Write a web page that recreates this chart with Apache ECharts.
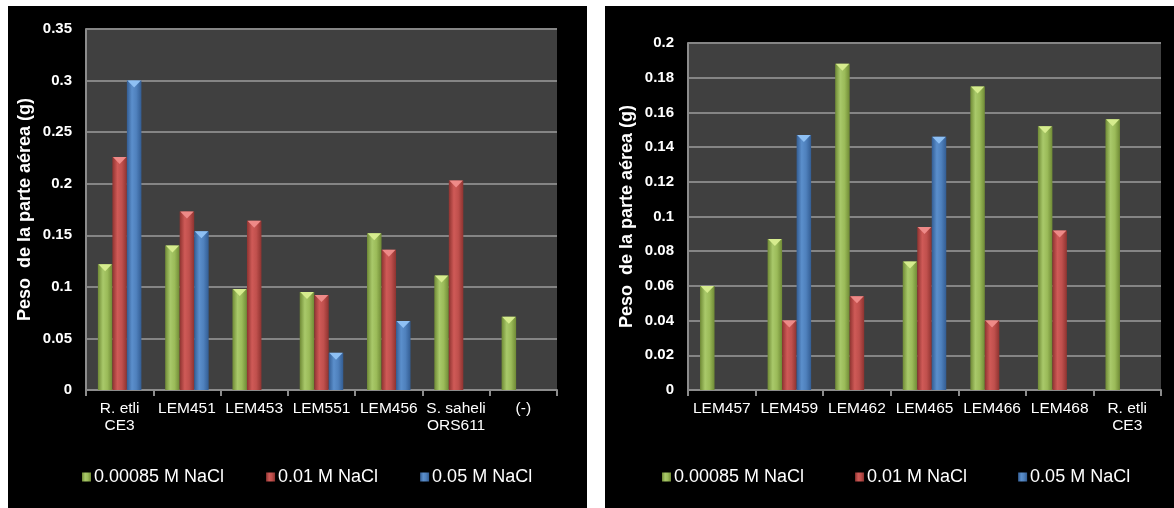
<!DOCTYPE html>
<html>
<head>
<meta charset="utf-8">
<script src="https://cdn.jsdelivr.net/npm/echarts@6/dist/echarts.min.js"></script>
<style>
html,body{margin:0;padding:0;background:#ffffff;}
#chart{width:1174px;height:508px;}
</style>
</head>
<body>
<div id="chart"></div>
<script>
// ---- data ----
const seriesNames = ['0.00085 M NaCl', '0.01 M NaCl', '0.05 M NaCl'];
const yTitle = 'Peso  de la parte aérea (g)';

const leftCategories = ['R. etli\nCE3', 'LEM451', 'LEM453', 'LEM551', 'LEM456', 'S. saheli\nORS611', '(-)'];
const leftLow  = [0.122, 0.140, 0.098, 0.095, 0.152, 0.111, 0.071];
const leftMid  = [0.226, 0.173, 0.164, 0.092, 0.136, 0.203, null];
const leftHigh = [0.300, 0.154, null, 0.036, 0.067, null, null];

const rightCategories = ['LEM457', 'LEM459', 'LEM462', 'LEM465', 'LEM466', 'LEM468', 'R. etli\nCE3'];
const rightLow  = [0.060, 0.087, 0.188, 0.074, 0.175, 0.152, 0.156];
const rightMid  = [null, 0.040, 0.054, 0.094, 0.040, 0.092, null];
const rightHigh = [null, 0.147, null, 0.146, null, null, null];

// ---- styles ----
const baseColors = ['#9bbb59', '#c0504d', '#4f81bd'];
const darkColors = ['#6f8a35', '#8e3330', '#335d93'];
const lightColors = ['#a9c96a', '#cf5a57', '#5b8fcc'];
const capColors = ['#d6ec8e', '#ee8a88', '#8ec0f4'];

function grad(i) {
  return new echarts.graphic.LinearGradient(0, 0, 1, 0, [
    {offset: 0, color: darkColors[i]},
    {offset: 0.35, color: lightColors[i]},
    {offset: 0.65, color: baseColors[i]},
    {offset: 1, color: darkColors[i]}
  ]);
}

const BW = 14.5;
function barSeries(data, i, axisIdx) {
  return {
    type: 'bar', name: seriesNames[i], data: data,
    xAxisIndex: axisIdx, yAxisIndex: axisIdx,
    barWidth: BW, barGap: '0%',
    itemStyle: {color: grad(i)},
    z: 2
  };
}
function capSeries(data, i, axisIdx) {
  return {
    type: 'pictorialBar', name: 'cap' + axisIdx + '_' + i, data: data,
    xAxisIndex: axisIdx, yAxisIndex: axisIdx,
    barWidth: BW, barGap: '0%',
    symbol: 'path://M0,0 L10,0 L5,6 Z',
    symbolSize: [BW - 1, 7],
    symbolPosition: 'end',
    symbolOffset: [0, 0],
    itemStyle: {color: capColors[i]},
    z: 3, silent: true
  };
}

const chart = echarts.init(document.getElementById('chart'), null, {renderer: 'canvas'});

function yAxis(gridIndex, max, interval) {
  return {
    type: 'value', gridIndex: gridIndex, min: 0, max: max, interval: interval,
    name: yTitle, nameLocation: 'middle', nameGap: 52, nameRotate: 90,
    nameTextStyle: {color: '#ffffff', fontSize: 18, fontWeight: 'bold', fontFamily: 'Liberation Sans, Arial, sans-serif'},
    axisLine: {show: true, lineStyle: {color: '#8c8c8c', width: 2}},
    axisTick: {show: false},
    axisLabel: {color: '#ffffff', fontSize: 15, fontWeight: 'bold', margin: 14, fontFamily: 'Liberation Sans, Arial, sans-serif'},
    splitLine: {show: true, lineStyle: {color: '#858585', width: 2}}
  };
}
function xAxis(gridIndex, cats) {
  return {
    type: 'category', gridIndex: gridIndex, data: cats,
    axisLine: {show: true, lineStyle: {color: '#8c8c8c', width: 2}},
    axisTick: {show: true, interval: 0, length: 6, lineStyle: {color: '#8c8c8c', width: 2}},
    axisLabel: {color: '#ffffff', fontSize: 15.5, lineHeight: 17, interval: 0, margin: 10, fontFamily: 'Liberation Sans, Arial, sans-serif'}
  };
}

const legendCommon = {
  data: seriesNames, top: 463, icon: 'rect', itemWidth: 9, itemHeight: 9,
  textStyle: {color: '#ffffff', fontSize: 18, fontFamily: 'Liberation Sans, Arial, sans-serif', padding: [0, 0, 0, -2]},
  selectedMode: false
};

chart.setOption({
  backgroundColor: '#ffffff',
  animation: false,
  graphic: [
    {type: 'rect', shape: {x: 8, y: 6, width: 579, height: 502}, style: {fill: '#000000'}, z: -10, silent: true},
    {type: 'rect', shape: {x: 605, y: 6, width: 569, height: 502}, style: {fill: '#000000'}, z: -10, silent: true}
  ],
  grid: [
    {left: 86, right: 617, top: 29, bottom: 118, show: true, backgroundColor: '#404040', borderWidth: 0, outerBoundsMode: 'none'},
    {left: 688, right: 13, top: 43, bottom: 118, show: true, backgroundColor: '#404040', borderWidth: 0, outerBoundsMode: 'none'}
  ],
  xAxis: [xAxis(0, leftCategories), xAxis(1, rightCategories)],
  yAxis: [yAxis(0, 0.35, 0.05), yAxis(1, 0.2, 0.02)],
  legend: [
    Object.assign({}, legendCommon, {left: 77, itemGap: 42}),
    Object.assign({}, legendCommon, {left: 657, itemGap: 51})
  ],
  series: [
    barSeries(leftLow, 0, 0), barSeries(leftMid, 1, 0), barSeries(leftHigh, 2, 0),
    capSeries(leftLow, 0, 0), capSeries(leftMid, 1, 0), capSeries(leftHigh, 2, 0),
    barSeries(rightLow, 0, 1), barSeries(rightMid, 1, 1), barSeries(rightHigh, 2, 1),
    capSeries(rightLow, 0, 1), capSeries(rightMid, 1, 1), capSeries(rightHigh, 2, 1)
  ]
});
</script>
</body>
</html>
